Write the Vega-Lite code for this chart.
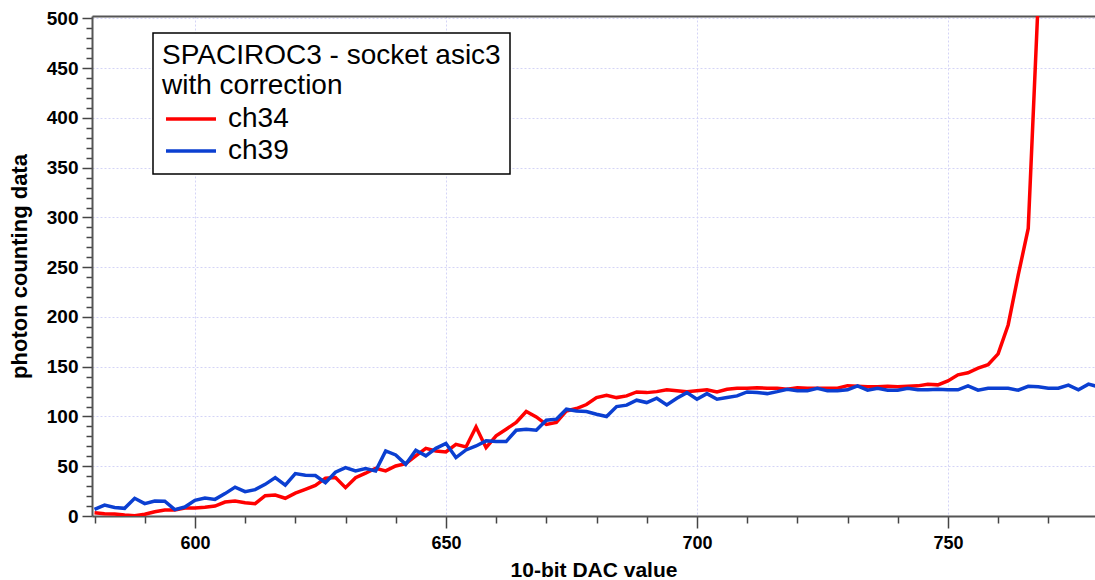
{
  "$schema": "https://vega.github.io/schema/vega-lite/v6.json",
  "autosize": {"type": "none"},
  "padding": {"left": 92, "top": 16, "right": 0, "bottom": 64},
  "width": 1003,
  "height": 500,
  "background": "white",
  "config": {
    "view": {"stroke": null},
    "font": "Liberation Sans",
    "axis": {
      "labelFont": "Liberation Sans",
      "titleFont": "Liberation Sans",
      "labelColor": "#000000",
      "titleColor": "#000000",
      "domainColor": "#555555",
      "domainWidth": 2,
      "tickColor": "#444444",
      "tickWidth": 1.5,
      "gridColor": "#d4d4f6",
      "gridDash": [2, 2],
      "gridWidth": 1
    }
  },
  "data": {
    "values": [
      {"dac": 580, "channel": "ch34", "count": 3.3}, {"dac": 582, "channel": "ch34", "count": 2.3}, {"dac": 584, "channel": "ch34", "count": 2}, {"dac": 586, "channel": "ch34", "count": 1}, {"dac": 588, "channel": "ch34", "count": 0.3},
      {"dac": 590, "channel": "ch34", "count": 1.7}, {"dac": 592, "channel": "ch34", "count": 4.3}, {"dac": 594, "channel": "ch34", "count": 6}, {"dac": 596, "channel": "ch34", "count": 6}, {"dac": 598, "channel": "ch34", "count": 8},
      {"dac": 600, "channel": "ch34", "count": 8}, {"dac": 602, "channel": "ch34", "count": 8.7}, {"dac": 604, "channel": "ch34", "count": 10}, {"dac": 606, "channel": "ch34", "count": 14}, {"dac": 608, "channel": "ch34", "count": 15},
      {"dac": 610, "channel": "ch34", "count": 13.4}, {"dac": 612, "channel": "ch34", "count": 12.4}, {"dac": 614, "channel": "ch34", "count": 20.4}, {"dac": 616, "channel": "ch34", "count": 21}, {"dac": 618, "channel": "ch34", "count": 17.8},
      {"dac": 620, "channel": "ch34", "count": 23}, {"dac": 622, "channel": "ch34", "count": 26.8}, {"dac": 624, "channel": "ch34", "count": 30.8}, {"dac": 626, "channel": "ch34", "count": 38}, {"dac": 628, "channel": "ch34", "count": 38.6},
      {"dac": 630, "channel": "ch34", "count": 28.5}, {"dac": 632, "channel": "ch34", "count": 38.5}, {"dac": 634, "channel": "ch34", "count": 43}, {"dac": 636, "channel": "ch34", "count": 48}, {"dac": 638, "channel": "ch34", "count": 45.3},
      {"dac": 640, "channel": "ch34", "count": 50.3}, {"dac": 642, "channel": "ch34", "count": 52.6}, {"dac": 644, "channel": "ch34", "count": 60.4}, {"dac": 646, "channel": "ch34", "count": 68}, {"dac": 648, "channel": "ch34", "count": 65.4},
      {"dac": 650, "channel": "ch34", "count": 64.4}, {"dac": 652, "channel": "ch34", "count": 72}, {"dac": 654, "channel": "ch34", "count": 69.4}, {"dac": 656, "channel": "ch34", "count": 89.5}, {"dac": 658, "channel": "ch34", "count": 68.7},
      {"dac": 660, "channel": "ch34", "count": 80.5}, {"dac": 662, "channel": "ch34", "count": 87.2}, {"dac": 664, "channel": "ch34", "count": 94}, {"dac": 666, "channel": "ch34", "count": 105}, {"dac": 668, "channel": "ch34", "count": 99.6},
      {"dac": 670, "channel": "ch34", "count": 92}, {"dac": 672, "channel": "ch34", "count": 94}, {"dac": 674, "channel": "ch34", "count": 105.6}, {"dac": 676, "channel": "ch34", "count": 108}, {"dac": 678, "channel": "ch34", "count": 112},
      {"dac": 680, "channel": "ch34", "count": 119}, {"dac": 682, "channel": "ch34", "count": 121.4}, {"dac": 684, "channel": "ch34", "count": 119}, {"dac": 686, "channel": "ch34", "count": 120.7}, {"dac": 688, "channel": "ch34", "count": 124.7},
      {"dac": 690, "channel": "ch34", "count": 124}, {"dac": 692, "channel": "ch34", "count": 125}, {"dac": 694, "channel": "ch34", "count": 126.8}, {"dac": 696, "channel": "ch34", "count": 125.8}, {"dac": 698, "channel": "ch34", "count": 125},
      {"dac": 700, "channel": "ch34", "count": 125.8}, {"dac": 702, "channel": "ch34", "count": 126.8}, {"dac": 704, "channel": "ch34", "count": 124.7}, {"dac": 706, "channel": "ch34", "count": 127.4}, {"dac": 708, "channel": "ch34", "count": 128.4},
      {"dac": 710, "channel": "ch34", "count": 128.4}, {"dac": 712, "channel": "ch34", "count": 129}, {"dac": 714, "channel": "ch34", "count": 128.4}, {"dac": 716, "channel": "ch34", "count": 128.4}, {"dac": 718, "channel": "ch34", "count": 127.4},
      {"dac": 720, "channel": "ch34", "count": 129}, {"dac": 722, "channel": "ch34", "count": 128.4}, {"dac": 724, "channel": "ch34", "count": 128.4}, {"dac": 726, "channel": "ch34", "count": 128.4}, {"dac": 728, "channel": "ch34", "count": 128.4},
      {"dac": 730, "channel": "ch34", "count": 131}, {"dac": 732, "channel": "ch34", "count": 130.4}, {"dac": 734, "channel": "ch34", "count": 129.8}, {"dac": 736, "channel": "ch34", "count": 129.8}, {"dac": 738, "channel": "ch34", "count": 130.4},
      {"dac": 740, "channel": "ch34", "count": 129.8}, {"dac": 742, "channel": "ch34", "count": 130.4}, {"dac": 744, "channel": "ch34", "count": 130.8}, {"dac": 746, "channel": "ch34", "count": 132.5}, {"dac": 748, "channel": "ch34", "count": 131.8},
      {"dac": 750, "channel": "ch34", "count": 135.8}, {"dac": 752, "channel": "ch34", "count": 141.9}, {"dac": 754, "channel": "ch34", "count": 143.9}, {"dac": 756, "channel": "ch34", "count": 148.6}, {"dac": 758, "channel": "ch34", "count": 152},
      {"dac": 760, "channel": "ch34", "count": 163}, {"dac": 762, "channel": "ch34", "count": 192}, {"dac": 764, "channel": "ch34", "count": 242}, {"dac": 766, "channel": "ch34", "count": 289}, {"dac": 768, "channel": "ch34", "count": 520},

      {"dac": 580, "channel": "ch39", "count": 6.7}, {"dac": 582, "channel": "ch39", "count": 11}, {"dac": 584, "channel": "ch39", "count": 8.5}, {"dac": 586, "channel": "ch39", "count": 7.7}, {"dac": 588, "channel": "ch39", "count": 17.8},
      {"dac": 590, "channel": "ch39", "count": 12.4}, {"dac": 592, "channel": "ch39", "count": 15}, {"dac": 594, "channel": "ch39", "count": 14.8}, {"dac": 596, "channel": "ch39", "count": 6.4}, {"dac": 598, "channel": "ch39", "count": 9},
      {"dac": 600, "channel": "ch39", "count": 15.8}, {"dac": 602, "channel": "ch39", "count": 18}, {"dac": 604, "channel": "ch39", "count": 16.7}, {"dac": 606, "channel": "ch39", "count": 22.5}, {"dac": 608, "channel": "ch39", "count": 29},
      {"dac": 610, "channel": "ch39", "count": 24.5}, {"dac": 612, "channel": "ch39", "count": 26.5}, {"dac": 614, "channel": "ch39", "count": 31.8}, {"dac": 616, "channel": "ch39", "count": 38.6}, {"dac": 618, "channel": "ch39", "count": 31},
      {"dac": 620, "channel": "ch39", "count": 42.6}, {"dac": 622, "channel": "ch39", "count": 41}, {"dac": 624, "channel": "ch39", "count": 40.6}, {"dac": 626, "channel": "ch39", "count": 33.5}, {"dac": 628, "channel": "ch39", "count": 44},
      {"dac": 630, "channel": "ch39", "count": 48.6}, {"dac": 632, "channel": "ch39", "count": 45.3}, {"dac": 634, "channel": "ch39", "count": 47.6}, {"dac": 636, "channel": "ch39", "count": 45.3}, {"dac": 638, "channel": "ch39", "count": 65.4},
      {"dac": 640, "channel": "ch39", "count": 61.4}, {"dac": 642, "channel": "ch39", "count": 52}, {"dac": 644, "channel": "ch39", "count": 66}, {"dac": 646, "channel": "ch39", "count": 60.4}, {"dac": 648, "channel": "ch39", "count": 68},
      {"dac": 650, "channel": "ch39", "count": 73}, {"dac": 652, "channel": "ch39", "count": 58.7}, {"dac": 654, "channel": "ch39", "count": 66.4}, {"dac": 656, "channel": "ch39", "count": 70.4}, {"dac": 658, "channel": "ch39", "count": 75.5},
      {"dac": 660, "channel": "ch39", "count": 74.8}, {"dac": 662, "channel": "ch39", "count": 74.8}, {"dac": 664, "channel": "ch39", "count": 86.2}, {"dac": 666, "channel": "ch39", "count": 87.2}, {"dac": 668, "channel": "ch39", "count": 86.2},
      {"dac": 670, "channel": "ch39", "count": 96.3}, {"dac": 672, "channel": "ch39", "count": 97.3}, {"dac": 674, "channel": "ch39", "count": 107.3}, {"dac": 676, "channel": "ch39", "count": 105.6}, {"dac": 678, "channel": "ch39", "count": 105},
      {"dac": 680, "channel": "ch39", "count": 102.3}, {"dac": 682, "channel": "ch39", "count": 100}, {"dac": 684, "channel": "ch39", "count": 110}, {"dac": 686, "channel": "ch39", "count": 111.4}, {"dac": 688, "channel": "ch39", "count": 116.4},
      {"dac": 690, "channel": "ch39", "count": 114}, {"dac": 692, "channel": "ch39", "count": 118.4}, {"dac": 694, "channel": "ch39", "count": 111.7}, {"dac": 696, "channel": "ch39", "count": 118.4}, {"dac": 698, "channel": "ch39", "count": 124},
      {"dac": 700, "channel": "ch39", "count": 117.4}, {"dac": 702, "channel": "ch39", "count": 123}, {"dac": 704, "channel": "ch39", "count": 117.4}, {"dac": 706, "channel": "ch39", "count": 119}, {"dac": 708, "channel": "ch39", "count": 120.7},
      {"dac": 710, "channel": "ch39", "count": 124.7}, {"dac": 712, "channel": "ch39", "count": 124}, {"dac": 714, "channel": "ch39", "count": 123}, {"dac": 716, "channel": "ch39", "count": 125}, {"dac": 718, "channel": "ch39", "count": 127.4},
      {"dac": 720, "channel": "ch39", "count": 125.8}, {"dac": 722, "channel": "ch39", "count": 125.8}, {"dac": 724, "channel": "ch39", "count": 128.4}, {"dac": 726, "channel": "ch39", "count": 125.8}, {"dac": 728, "channel": "ch39", "count": 125.8},
      {"dac": 730, "channel": "ch39", "count": 126.8}, {"dac": 732, "channel": "ch39", "count": 130.8}, {"dac": 734, "channel": "ch39", "count": 126.4}, {"dac": 736, "channel": "ch39", "count": 128.4}, {"dac": 738, "channel": "ch39", "count": 126.4},
      {"dac": 740, "channel": "ch39", "count": 126.4}, {"dac": 742, "channel": "ch39", "count": 128.4}, {"dac": 744, "channel": "ch39", "count": 126.8}, {"dac": 746, "channel": "ch39", "count": 126.8}, {"dac": 748, "channel": "ch39", "count": 127.4},
      {"dac": 750, "channel": "ch39", "count": 126.8}, {"dac": 752, "channel": "ch39", "count": 126.8}, {"dac": 754, "channel": "ch39", "count": 130.8}, {"dac": 756, "channel": "ch39", "count": 126.4}, {"dac": 758, "channel": "ch39", "count": 128.4},
      {"dac": 760, "channel": "ch39", "count": 128.4}, {"dac": 762, "channel": "ch39", "count": 128.4}, {"dac": 764, "channel": "ch39", "count": 126.4}, {"dac": 766, "channel": "ch39", "count": 130.4}, {"dac": 768, "channel": "ch39", "count": 129.8},
      {"dac": 770, "channel": "ch39", "count": 128.4}, {"dac": 772, "channel": "ch39", "count": 128.4}, {"dac": 774, "channel": "ch39", "count": 131.5}, {"dac": 776, "channel": "ch39", "count": 126.8}, {"dac": 778, "channel": "ch39", "count": 132.5},
      {"dac": 780, "channel": "ch39", "count": 129.8}
    ]
  },
  "layer": [
    {
      "mark": {"type": "line", "strokeWidth": 3.5, "clip": true},
      "encoding": {
        "x": {
          "field": "dac", "type": "quantitative",
          "scale": {"domain": [579.5, 779.3], "nice": false, "zero": false},
          "axis": {
            "orient": "bottom",
            "title": "10-bit DAC value",
            "titleFontSize": 21, "titleFontWeight": "bold", "titlePadding": 7,
            "values": [580, 590, 600, 610, 620, 630, 640, 650, 660, 670, 680, 690, 700, 710, 720, 730, 740, 750, 760, 770],
            "labelExpr": "datum.value % 50 === 0 ? datum.label : ''",
            "labelFontSize": 18, "labelFontWeight": "bold", "labelPadding": 6,
            "tickSize": {"condition": {"test": "datum.value % 50 === 0", "value": 12}, "value": 7},
            "gridOpacity": {"condition": {"test": "datum.value % 50 === 0", "value": 1}, "value": 0},
            "grid": true, "zindex": 0
          }
        },
        "y": {
          "field": "count", "type": "quantitative",
          "scale": {"domain": [0, 502.5], "nice": false, "zero": false},
          "axis": {
            "orient": "left",
            "title": "photon counting data",
            "titleFontSize": 22, "titleFontWeight": "bold", "titlePadding": 15,
            "values": [0, 10, 20, 30, 40, 50, 60, 70, 80, 90, 100, 110, 120, 130, 140, 150, 160, 170, 180, 190, 200, 210, 220, 230, 240, 250, 260, 270, 280, 290, 300, 310, 320, 330, 340, 350, 360, 370, 380, 390, 400, 410, 420, 430, 440, 450, 460, 470, 480, 490, 500],
            "labelExpr": "datum.value % 50 === 0 ? datum.label : ''",
            "labelFontSize": 19, "labelFontWeight": "bold", "labelPadding": 4,
            "tickSize": {"condition": {"test": "datum.value % 50 === 0", "value": 10}, "value": 6},
            "gridOpacity": {"condition": {"test": "datum.value % 50 === 0", "value": 1}, "value": 0},
            "grid": true, "zindex": 0
          }
        },
        "color": {
          "field": "channel", "type": "nominal",
          "scale": {"domain": ["ch34", "ch39"], "range": ["#ff0000", "#0b3fd1"]},
          "legend": {
            "orient": "none",
            "legendX": 61,
            "legendY": 17,
            "title": ["SPACIROC3 - socket asic3", "with correction"],
            "titleFont": "Liberation Sans",
            "titleFontSize": 28,
            "titleFontWeight": "normal",
            "titleColor": "#000000",
            "titleLineHeight": 30,
            "titlePadding": 2,
            "titleLimit": 600,
            "labelFont": "Liberation Sans",
            "labelFontSize": 28,
            "labelColor": "#000000",
            "labelOffset": 20,
            "labelLimit": 300,
            "symbolType": "M-1.6667,0H1.6667",
            "symbolSize": 900,
            "symbolOffset": 12,
            "symbolStrokeWidth": 3.5,
            "rowPadding": 1,
            "padding": 9,
            "strokeColor": "#000000",
            "fillColor": "#ffffff",
            "cornerRadius": 0,
            "encode": {"legend": {"update": {"strokeWidth": {"value": 1.5}}}}
          }
        }
      }
    },
    {
      "mark": {"type": "line", "opacity": 0},
      "encoding": {
        "x": {
          "field": "dac", "type": "quantitative",
          "scale": {"domain": [579.5, 779.3], "nice": false, "zero": false},
          "axis": {"orient": "top", "labels": false, "ticks": false, "grid": false, "title": null, "domain": true}
        },
        "y": {"field": "count", "type": "quantitative", "axis": null},
        "detail": {"field": "channel"}
      }
    }
  ],
  "resolve": {"axis": {"x": "independent", "y": "independent"}}
}
